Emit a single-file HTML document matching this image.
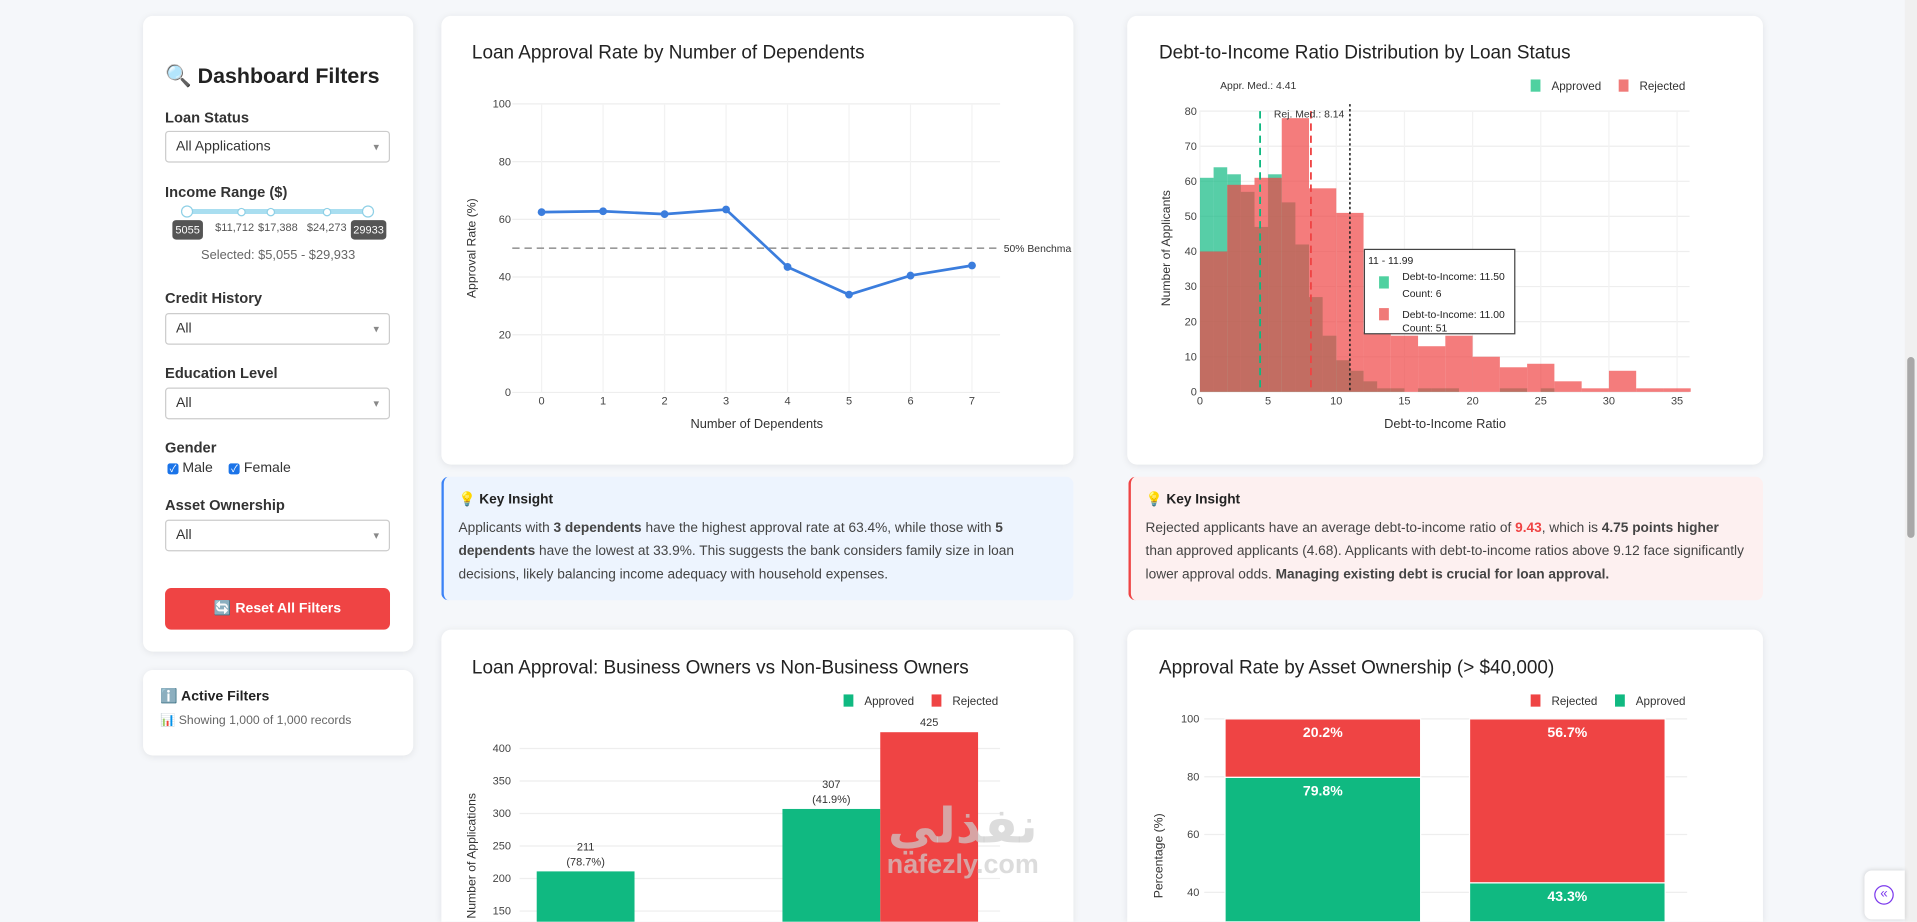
<!DOCTYPE html>
<html><head><meta charset="utf-8">
<style>
html,body{margin:0;padding:0;width:1917px;height:922px;overflow:hidden;background:#f4f6f9;font-family:"Liberation Sans","Noto Sans CJK SC",sans-serif;}
#wrap{position:absolute;left:0;top:0;width:1568px;height:754px;overflow:hidden;transform:scale(1.22258);transform-origin:0 0;background:#f5f7fa;}
.card{position:absolute;background:#fff;border-radius:8px;box-shadow:0 1px 6px rgba(0,0,0,0.08);}
.lbl{position:absolute;left:18px;font-size:12px;font-weight:bold;color:#333;}
.sel{position:absolute;left:18px;width:184px;height:26px;border:1px solid #ccc;border-radius:3px;font-size:11.5px;color:#333;line-height:25px;padding-left:8px;box-sizing:border-box;}
.sel:after{content:"▾";position:absolute;right:8px;top:0;font-size:9px;color:#888;}
.ins{position:absolute;border-radius:6px;font-size:11.2px;color:#444;line-height:19px;padding:10px 12px;box-sizing:border-box;}
.ins b.t{display:block;color:#222;margin-bottom:4px;}
svg text{font-family:"Liberation Sans",sans-serif;}
</style></head><body>
<div id="wrap">
<!-- sidebar -->
<div class="card" style="left:117px;top:13px;width:221px;height:520px;">
  <div style="position:absolute;left:18px;top:39px;font-size:17.5px;font-weight:bold;color:#222;">🔍 Dashboard Filters</div>
  <div class="lbl" style="top:76px;">Loan Status</div>
  <div class="sel" style="top:94px;">All Applications</div>
  <div class="lbl" style="top:137px;">Income Range ($)</div>
  <div style="position:absolute;left:36px;top:158px;width:148px;height:4px;background:#a9def0;border-radius:2px;"></div>
  <div style="position:absolute;left:31px;top:155px;width:8px;height:8px;border:1px solid #8fd0e6;border-radius:50%;background:#fff;"></div>
  <div style="position:absolute;left:179px;top:155px;width:8px;height:8px;border:1px solid #8fd0e6;border-radius:50%;background:#fff;"></div>
  <div style="position:absolute;left:77px;top:157px;width:5px;height:5px;border:1px solid #8fd0e6;border-radius:50%;background:#fff;"></div>
  <div style="position:absolute;left:101px;top:157px;width:5px;height:5px;border:1px solid #8fd0e6;border-radius:50%;background:#fff;"></div>
  <div style="position:absolute;left:147px;top:157px;width:5px;height:5px;border:1px solid #8fd0e6;border-radius:50%;background:#fff;"></div>
  <div style="position:absolute;left:24px;top:167px;width:25px;height:16px;background:#555;color:#fff;font-size:9px;line-height:16px;text-align:center;border-radius:3px;">5055</div>
  <div style="position:absolute;left:170px;top:167px;width:29px;height:16px;background:#555;color:#fff;font-size:9px;line-height:16px;text-align:center;border-radius:3px;">29933</div>
  <div style="position:absolute;left:59px;top:168px;font-size:9px;color:#555;">$11,712</div>
  <div style="position:absolute;left:94px;top:168px;font-size:9px;color:#555;">$17,388</div>
  <div style="position:absolute;left:134px;top:168px;font-size:9px;color:#555;">$24,273</div>
  <div style="position:absolute;left:0;width:221px;top:190px;text-align:center;font-size:10.5px;color:#666;">Selected: $5,055 - $29,933</div>
  <div class="lbl" style="top:224px;">Credit History</div>
  <div class="sel" style="top:243px;">All</div>
  <div class="lbl" style="top:285px;">Education Level</div>
  <div class="sel" style="top:304px;">All</div>
  <div class="lbl" style="top:346px;">Gender</div>
  <div style="position:absolute;left:20px;top:364px;font-size:11.5px;color:#333;">
    <span style="display:inline-block;width:9px;height:9px;background:#1a73e8;border-radius:2px;color:#fff;font-size:8px;line-height:9px;text-align:center;">✓</span> Male
    <span style="display:inline-block;width:9px;height:9px;background:#1a73e8;border-radius:2px;color:#fff;font-size:8px;line-height:9px;text-align:center;margin-left:10px;">✓</span> Female
  </div>
  <div class="lbl" style="top:393px;">Asset Ownership</div>
  <div class="sel" style="top:412px;">All</div>
  <div style="position:absolute;left:18px;top:468px;width:184px;height:34px;background:#ef4444;border-radius:5px;color:#fff;font-size:11.5px;font-weight:bold;text-align:center;line-height:34px;">🔄 Reset All Filters</div>
</div>
<div class="card" style="left:117px;top:548px;width:221px;height:70px;">
  <div style="position:absolute;left:14px;top:14px;font-size:11.5px;font-weight:bold;color:#222;">ℹ️ Active Filters</div>
  <div style="position:absolute;left:14px;top:36px;font-size:10px;color:#666;">📊 Showing 1,000 of 1,000 records</div>
</div>
<!-- cards -->
<div class="card" style="left:361px;top:13px;width:517px;height:367px;"></div>
<div class="card" style="left:922px;top:13px;width:520px;height:367px;"></div>
<div class="card" style="left:361px;top:515px;width:517px;height:239px;border-radius:8px 8px 0 0;"></div>
<div class="card" style="left:922px;top:515px;width:520px;height:239px;border-radius:8px 8px 0 0;"></div>
<div class="ins" style="left:361px;top:390px;width:517px;height:101px;background:#edf4fe;border-left:2px solid #3b82f6;">
<b class="t">💡 Key Insight</b>Applicants with <b>3 dependents</b> have the highest approval rate at 63.4%, while those with <b>5 dependents</b> have the lowest at 33.9%. This suggests the bank considers family size in loan decisions, likely balancing income adequacy with household expenses.</div>
<div class="ins" style="left:923px;top:390px;width:519px;height:101px;background:#fdf0f0;border-left:2px solid #ef4444;">
<b class="t">💡 Key Insight</b>Rejected applicants have an average debt-to-income ratio of <b style="color:#ef4444">9.43</b>, which is <b>4.75 points higher</b> than approved applicants (4.68). Applicants with debt-to-income ratios above 9.12 face significantly lower approval odds. <b>Managing existing debt is crucial for loan approval.</b></div>
<svg id="sv" width="1568" height="754" style="position:absolute;left:0;top:0;"></svg>
<div style="position:absolute;left:700px;top:656px;width:175px;text-align:center;color:rgba(205,205,205,0.7);font-weight:bold;line-height:1;">
<div style="font-size:40px;font-family:'DejaVu Sans',sans-serif;">نفذلي</div><div style="font-size:22px;">nafezly.com</div></div>
<div style="position:absolute;left:1558px;top:0;width:10px;height:754px;background:#f0f0f0;"><div style="position:absolute;left:2px;top:292px;width:6px;height:148px;background:#a8a8a8;border-radius:3px;"></div></div>
<div style="position:absolute;left:1525px;top:712px;width:33px;height:40px;background:#fff;border-radius:6px 0 0 6px;box-shadow:0 0 4px rgba(0,0,0,0.15);"><div style="position:absolute;left:8px;top:12px;width:14px;height:14px;border:1.5px solid #7c3aed;border-radius:50%;color:#7c3aed;font-size:11px;line-height:13px;text-align:center;">«</div></div>
</div>
<script>
const depCats=[0,1,2,3,4,5,6,7];
const depRates=[62.5,62.8,61.8,63.4,43.5,33.9,40.5,44.0];
const depTicks=[0,20,40,60,80,100];
const dtiApprovedCounts=[61,64,62,57,47,62,54,42,27,16,9,6,3,1,1,0,1,1,1,0,0,0,1,1,0,1];
const dtiRejectedCounts=[40,59,61,78,58,51,17,16,13,16,10,7,8,3,1,6,1,1];
const dtiYTicks=[0,10,20,30,40,50,60,70,80];
const dtiXTicks=[0,5,10,15,20,25,30,35];
const bizCats=["Non-Business Owner","Business Owner"];
const bizApproved=[211,307];
const bizRejected=[57,425];
const bizApprovedPct=["78.7%","41.9%"];
const bizTicks=[150,200,250,300,350,400];
const assetCats=["Low Assets","High Assets"];
const assetApproved=[79.8,43.3];
const assetRejected=[20.2,56.7];
const assetTicks=[40,60,80,100];

const BOTTOM=754;
const sv=document.getElementById('sv');
const NS='http://www.w3.org/2000/svg';
function mk(tag,at,txt){const e=document.createElementNS(NS,tag);for(const k in at)e.setAttribute(k,at[k]);if(txt!==undefined)e.textContent=txt;sv.appendChild(e);return e;}
function title(x,y,t){const e=mk('text',{x:x,y:y,'font-size':15.5,fill:'#222'},t);

}
function legend(x,y,color,t){const r=mk('rect',{x:x,y:y-5,width:8,height:10,fill:color});


const e=mk('text',{x:x+17,y:y+3.5,'font-size':9.5,fill:'#333'},t);

}
const toBottom=y=>Math.max(0,BOTTOM-y);

// chart 1
title(386,48,'Loan Approval Rate by Number of Dependents');
const x1=i=>443+i*50.29, y1=v=>321-v*2.36;
depTicks.forEach(t=>{mk('line',{x1:419,x2:818,y1:y1(t),y2:y1(t),stroke:'#eee'});
const e=mk('text',{x:418,y:y1(t)+3,'font-size':9,'text-anchor':'end',fill:'#444'},t);

});
depCats.forEach(c=>{mk('line',{x1:x1(c),x2:x1(c),y1:y1(100),y2:y1(0),stroke:'#f2f2f2'});
const e=mk('text',{x:x1(c),y:331,'font-size':9,'text-anchor':'middle',fill:'#444'},c);

});
let bl=mk('line',{x1:419,x2:818,y1:y1(50),y2:y1(50),stroke:'#999','stroke-width':1.3,'stroke-dasharray':'6,4'});


mk('text',{x:821,y:y1(50)+3,'font-size':8.5,fill:'#333'},'50% Benchma');
let p1=mk('polyline',{points:depCats.map((c,i)=>x1(c)+','+y1(depRates[i])).join(' '),fill:'none',stroke:'#3b7ddd','stroke-width':2.2});


depCats.forEach((c,i)=>{const e=mk('circle',{cx:x1(c),cy:y1(depRates[i]),r:3.2,fill:'#3b7ddd'});

});
mk('text',{x:619,y:350,'font-size':10.5,'text-anchor':'middle',fill:'#333'},'Number of Dependents');
mk('text',{x:0,y:0,'font-size':10,'text-anchor':'middle',fill:'#333',transform:'translate(389,203) rotate(-90)'},'Approval Rate (%)');

// chart 2
title(948,48,'Debt-to-Income Ratio Distribution by Loan Status');
const x2=v=>981.5+v*11.15, y2=v=>320.5-v*2.87;
dtiYTicks.forEach(t=>{mk('line',{x1:981,x2:1382,y1:y2(t),y2:y2(t),stroke:'#eee'});
const e=mk('text',{x:979,y:y2(t)+3,'font-size':9,'text-anchor':'end',fill:'#444'},t);

});
dtiXTicks.forEach(t=>{mk('line',{x1:x2(t),x2:x2(t),y1:y2(80),y2:y2(0),stroke:'#f2f2f2'});
const e=mk('text',{x:x2(t),y:331,'font-size':9,'text-anchor':'middle',fill:'#444'},t);

});
dtiApprovedCounts.forEach((c,i)=>{if(!c)return;const e=mk('rect',{x:x2(i),y:y2(c),width:11.15,height:y2(0)-y2(c),fill:'rgba(16,185,129,0.7)'});

});
dtiRejectedCounts.forEach((c,i)=>{const e=mk('rect',{x:x2(i*2),y:y2(c),width:22.3,height:y2(0)-y2(c),fill:'rgba(239,68,68,0.7)'});

});
mk('line',{x1:x2(4.41),x2:x2(4.41),y1:y2(80),y2:y2(0),stroke:'#10b981','stroke-width':1.5,'stroke-dasharray':'6,4'});
mk('line',{x1:x2(8.14),x2:x2(8.14),y1:y2(80),y2:y2(0),stroke:'#ef4444','stroke-width':1.5,'stroke-dasharray':'6,4'});
mk('line',{x1:x2(11),x2:x2(11),y1:y2(82),y2:y2(0),stroke:'#222','stroke-width':1.3,'stroke-dasharray':'2,2'});
mk('text',{x:998,y:73,'font-size':8.5,fill:'#333'},'Appr. Med.: 4.41');
mk('text',{x:1042,y:96,'font-size':8.5,fill:'#333'},'Rej. Med.: 8.14');
legend(1252,70,'#4fd1a0','Approved');legend(1324,70,'#f07a78','Rejected');
mk('text',{x:1182,y:350,'font-size':10.5,'text-anchor':'middle',fill:'#333'},'Debt-to-Income Ratio');
mk('text',{x:0,y:0,'font-size':10,'text-anchor':'middle',fill:'#333',transform:'translate(957,203) rotate(-90)'},'Number of Applicants');
let tt=mk('rect',{x:1116,y:204,width:123,height:69,fill:'#fff',stroke:'#444','stroke-width':1});


mk('text',{x:1119,y:216,'font-size':8.5,fill:'#222'},'11 - 11.99');
mk('rect',{x:1128,y:226,width:8,height:10,fill:'#4fd1a0'});
mk('text',{x:1147,y:229,'font-size':8.5,fill:'#222'},'Debt-to-Income: 11.50');
mk('text',{x:1147,y:243,'font-size':8.5,fill:'#222'},'Count: 6');
mk('rect',{x:1128,y:252,width:8,height:10,fill:'#f07a78'});
mk('text',{x:1147,y:260,'font-size':8.5,fill:'#222'},'Debt-to-Income: 11.00');
mk('text',{x:1147,y:271,'font-size':8.5,fill:'#222'},'Count: 51');

// chart 3
title(386,551,'Loan Approval: Business Owners vs Non-Business Owners');
const y3=v=>825-v*0.532, xc3=i=>519+i*201;
bizTicks.forEach(t=>{mk('line',{x1:425,x2:818,y1:y3(t),y2:y3(t),stroke:'#eee'});
const e=mk('text',{x:418,y:y3(t)+3,'font-size':9,'text-anchor':'end',fill:'#444'},t);

});
bizCats.forEach((c,i)=>{
const a=mk('rect',{x:xc3(i)-80,y:y3(bizApproved[i]),width:80,height:toBottom(y3(bizApproved[i])),fill:'#10b981'});


const r=mk('rect',{x:xc3(i),y:y3(bizRejected[i]),width:80,height:toBottom(y3(bizRejected[i])),fill:'#ef4444'});


mk('text',{x:xc3(i)-40,y:y3(bizApproved[i])-17,'font-size':9,'text-anchor':'middle',fill:'#333'},bizApproved[i]);
mk('text',{x:xc3(i)-40,y:y3(bizApproved[i])-5,'font-size':9,'text-anchor':'middle',fill:'#333'},'('+bizApprovedPct[i]+')');
mk('text',{x:xc3(i)+40,y:y3(bizRejected[i])-5,'font-size':9,'text-anchor':'middle',fill:'#333'},bizRejected[i]);});
legend(690,573,'#10b981','Approved');legend(762,573,'#ef4444','Rejected');
mk('text',{x:0,y:0,'font-size':10,'text-anchor':'middle',fill:'#333',transform:'translate(389,700) rotate(-90)'},'Number of Applications');

// chart 4
title(948,551,'Approval Rate by Asset Ownership (> $40,000)');
const y4=v=>588+(100-v)*2.365, xc4=i=>1002+i*200;
assetTicks.forEach(t=>{mk('line',{x1:985,x2:1380,y1:y4(t),y2:y4(t),stroke:'#eee'});
const e=mk('text',{x:981,y:y4(t)+3,'font-size':9,'text-anchor':'end',fill:'#444'},t);

});
assetCats.forEach((c,i)=>{
const a=mk('rect',{x:xc4(i),y:y4(assetApproved[i]),width:160,height:toBottom(y4(assetApproved[i])),fill:'#10b981',stroke:'#fff','stroke-width':1});


const r=mk('rect',{x:xc4(i),y:y4(100),width:160,height:y4(100-assetRejected[i])-y4(100),fill:'#ef4444',stroke:'#fff','stroke-width':1});


mk('text',{x:xc4(i)+80,y:y4(100)+15,'font-size':11.5,'font-weight':'bold','text-anchor':'middle',fill:'#fff'},assetRejected[i].toFixed(1)+'%');
mk('text',{x:xc4(i)+80,y:y4(assetApproved[i])+15,'font-size':11.5,'font-weight':'bold','text-anchor':'middle',fill:'#fff'},assetApproved[i].toFixed(1)+'%');});
legend(1252,573,'#ef4444','Rejected');legend(1321,573,'#10b981','Approved');
mk('text',{x:0,y:0,'font-size':10,'text-anchor':'middle',fill:'#333',transform:'translate(951,700) rotate(-90)'},'Percentage (%)');
</script>
</body></html>
